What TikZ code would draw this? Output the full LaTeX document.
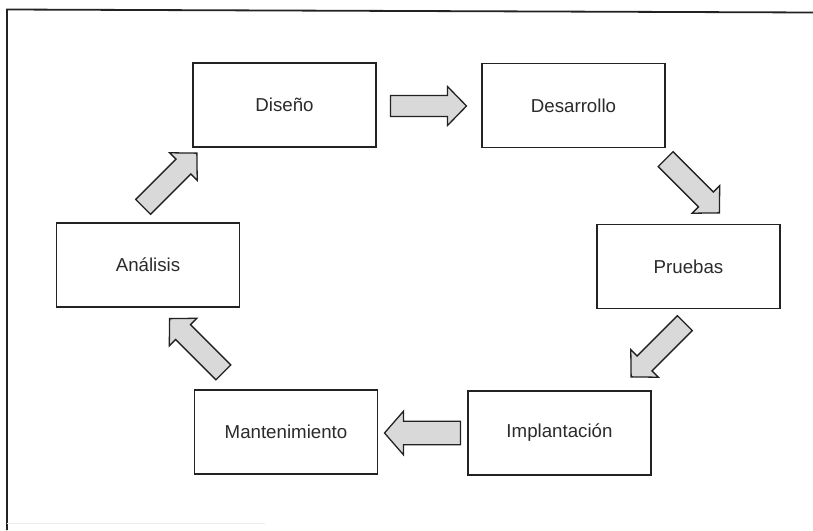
\documentclass[tikz,border=0pt]{standalone}
\usepackage{fontspec}
\setmainfont{Liberation Sans}
\begin{document}
\begin{tikzpicture}[x=1pt,y=-1pt]
\definecolor{edge}{HTML}{222222}
\definecolor{txt}{HTML}{2B2B2B}
\definecolor{arrowfill}{HTML}{D9D9D9}
\tikzset{
  stagebox/.style={draw=edge, line width=1.4pt, fill=white, minimum width=183pt, minimum height=84pt, inner sep=0pt, text=txt, font=\fontsize{18.7}{22}\selectfont},
  arrowline/.style={draw=edge, line width=1.3pt, fill=arrowfill, line join=miter},
  blockarrow/.pic={\path[arrowline] (-38,-10.5) -- (19,-10.5) -- (19,-19.5) -- (38,0) -- (19,19.5) -- (19,10.5) -- (-38,10.5) -- cycle;}
}
\useasboundingbox (0,0) rectangle (813,530);
% frame
\draw[edge, line width=1.8pt] (7,530) -- (7,9.5) -- (813,12.5);
\draw[black!8, line width=0.8pt] (7,523) -- (265,523);
% stages
\node[stagebox] (dis) at (284.5,105) {Diseño};
\node[stagebox] (des) at (573.5,105.5) {Desarrollo};
\node[stagebox] (pru) at (688.5,266.5) {Pruebas};
\node[stagebox] (imp) at (559.5,433) {Implantación};
\node[stagebox] (man) at (286,432) {Mantenimiento};
\node[stagebox] (ana) at (148,265) {Análisis};
% block arrows
\pic at (428.5,106) {blockarrow};
\pic[rotate=-45] at (692.5,186) {blockarrow};
\pic[rotate=-135] at (658,350) {blockarrow};
\pic[rotate=180, yscale=1.12] at (422.5,433) {blockarrow};
\pic[rotate=135] at (196.5,345.5) {blockarrow};
\pic[rotate=45] at (170,180) {blockarrow};
\end{tikzpicture}
\end{document}
